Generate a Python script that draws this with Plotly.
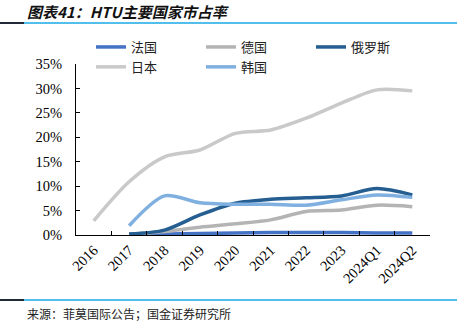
import plotly.graph_objects as go

categories = ["2016", "2017", "2018", "2019", "2020", "2021", "2022", "2023", "2024Q1", "2024Q2"]
france = [None, 0.1, 0.2, 0.3, 0.4, 0.5, 0.5, 0.5, 0.4, 0.4]
germany = [None, 0.1, 0.7, 1.6, 2.3, 3.1, 4.8, 5.1, 6.1, 5.8]
russia = [None, 0.2, 1.0, 4.1, 6.5, 7.3, 7.6, 8.0, 9.5, 8.2]
japan = [2.9, 10.9, 16.0, 17.4, 20.8, 21.5, 23.9, 27.0, 29.7, 29.5]
korea = [None, 1.9, 8.0, 6.6, 6.3, 6.3, 6.1, 7.2, 8.2, 7.7]
y_ticks = [0, 5, 10, 15, 20, 25, 30, 35]

series = [
    ("法国", france, "#4472C4"),
    ("德国", germany, "#B4B4B4"),
    ("俄罗斯", russia, "#255E91"),
    ("日本", japan, "#C9C9C9"),
    ("韩国", korea, "#7FB0E0"),
]

fig = go.Figure()
for name, vals, color in series:
    fig.add_trace(go.Scatter(
        x=categories, y=vals, name=name, mode="lines",
        line=dict(color=color, width=3.5, shape="spline", smoothing=0.8),
        connectgaps=False,
    ))

W, H = 457, 325
L, R, T, B = 76, 27, 64, 90
PW, PH = W - L - R, H - T - B
fig.update_layout(
    width=W, height=H,
    margin=dict(l=L, r=R, t=T, b=B, pad=0),
    paper_bgcolor="white", plot_bgcolor="white",
    font=dict(family="Liberation Serif, Noto Sans CJK SC", size=13, color="#000"),
    showlegend=True,
    legend=dict(
        orientation="h", x=(91 - L) / PW, y=(H - B - 32) / PH,
        xanchor="left", yanchor="top",
        entrywidth=65, entrywidthmode="pixels",
        font=dict(family="Noto Sans CJK SC", size=13, color="#222"),
        bgcolor="rgba(0,0,0,0)", tracegroupgap=0, itemwidth=30,
    ),
    xaxis=dict(
        type="category", range=[-0.5, 9.5], tickson="boundaries",
        showline=True, linecolor="#000", linewidth=1,
        ticks="inside", ticklen=4, tickcolor="#000",
        tickangle=-45, showgrid=False, zeroline=False,
        tickfont=dict(family="Liberation Serif", size=14.5, color="#000"),
    ),
    yaxis=dict(
        range=[0, 35], tickvals=y_ticks, ticktext=[f"{v}%" for v in y_ticks],
        showline=True, linecolor="#000", linewidth=1,
        ticks="inside", ticklen=4, tickcolor="#000",
        showgrid=False, zeroline=False, ticklabelstandoff=10,
        tickfont=dict(family="Liberation Serif", size=14.5, color="#000"),
    ),
)

# header & footer rules
for yy in (23, 300):
    fig.add_shape(type="line", xref="paper", yref="paper",
                  x0=(0 - L) / PW, x1=(24 - L) / PW,
                  y0=(H - B - yy) / PH, y1=(H - B - yy) / PH,
                  line=dict(color="#1F2A36", width=2))
    fig.add_shape(type="line", xref="paper", yref="paper",
                  x0=(24 - L) / PW, x1=(W - L) / PW,
                  y0=(H - B - yy) / PH, y1=(H - B - yy) / PH,
                  line=dict(color="#19A9E6", width=1.5))

fig.add_annotation(
    text="<b><i>图表41：HTU主要国家市占率</i></b>",
    xref="paper", yref="paper", x=(25 - L) / PW, y=(H - B - 11) / PH,
    xanchor="left", yanchor="middle", showarrow=False,
    font=dict(family="Noto Sans CJK SC", size=15, color="#111"),
)
fig.add_annotation(
    text="来源：菲莫国际公告；国金证券研究所",
    xref="paper", yref="paper", x=(25 - L) / PW, y=(H - B - 313) / PH,
    xanchor="left", yanchor="middle", showarrow=False,
    font=dict(family="Noto Sans CJK SC", size=12, color="#222"),
)

fig.write_html("out.html")
